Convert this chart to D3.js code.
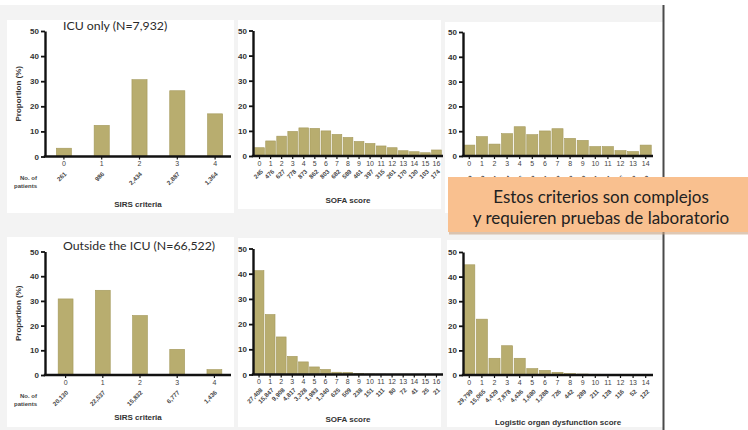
<!DOCTYPE html>
<html>
<head>
<meta charset="utf-8">
<script src="https://cdn.jsdelivr.net/npm/d3@7"></script>
<style>
  html, body { margin: 0; padding: 0; background: #ffffff; }
  svg { display: block; }
</style>
</head>
<body>
<svg id="chart" width="748" height="430"></svg>
<script>
// ---------- data ----------
const sirsScores = ["0", "1", "2", "3", "4"];
const sofaScores = ["0", "1", "2", "3", "4", "5", "6", "7", "8", "9", "10", "11", "12", "13", "14", "15", "16"];
const lodsScores = ["0", "1", "2", "3", "4", "5", "6", "7", "8", "9", "10", "11", "12", "13", "14"];
const yTicks = [0, 10, 20, 30, 40, 50];

// ICU only (N=7,932)
const icuSirsPct   = [3.3, 12.4, 30.6, 26.2, 17.0];
const icuSirsCount = ["261", "986", "2,434", "2,887", "1,364"];
const icuSofaPct   = [3.3, 6.0, 7.9, 9.8, 11.2, 11.0, 10.0, 8.6, 7.4, 5.8, 5.0, 4.0, 3.3, 2.1, 1.7, 1.3, 2.4];
const icuSofaCount = ["245", "476", "627", "778", "873", "862", "803", "682", "589", "461", "397", "315", "261", "170", "130", "103", "174"];
const icuLodsPct   = [4.4, 7.8, 4.8, 9.0, 11.8, 8.6, 10.1, 11.0, 7.1, 6.3, 3.8, 3.8, 2.2, 1.8, 4.4];
const icuLodsCount = ["349", "619", "381", "714", "936", "682", "801", "873", "563", "500", "301", "301", "175", "143", "349"];

// Outside the ICU (N=66,522)
const wardSirsPct   = [30.8, 34.3, 24.1, 10.4, 2.2];
const wardSirsCount = ["20,130", "22,537", "15,832", "6,777", "1,436"];
const wardSofaPct   = [41.2, 23.8, 14.9, 7.2, 5.0, 3.0, 2.0, 0.9, 0.8, 0.4, 0.2, 0.15, 0.1, 0.1, 0.06, 0.04, 0.03];
const wardSofaCount = ["27,408", "15,847", "9,908", "4,817", "3,328", "1,983", "1,340", "625", "509", "238", "151", "111", "80", "72", "41", "25", "21"];
const wardLodsPct   = [44.8, 22.7, 6.8, 11.9, 6.8, 2.6, 1.9, 1.1, 0.6, 0.4, 0.3, 0.2, 0.2, 0.1, 0.2];
const wardLodsCount = ["29,799", "15,065", "4,429", "7,878", "4,436", "1,680", "1,288", "726", "442", "289", "211", "128", "116", "52", "122"];

const icuTitle  = "ICU only (N=7,932)";
const wardTitle = "Outside the ICU (N=66,522)";
const calloutLines = ["Estos criterios son complejos", "y requieren pruebas de laboratorio"];

// ---------- layout ----------
const W = 748, H = 430;
const barFill = "#b8ad6f", barStroke = "#a3985a";
const axisFont = "'Liberation Sans', Arial, sans-serif";

const panels = [
  { title: icuTitle, cats: sirsScores, pct: icuSirsPct, count: icuSirsCount, xTitle: "SIRS criteria",
    box: [7, 20, 234, 213], axisX: 45, xr: [45, 234], xEnd: 231, y0: 156.5, y50: 31, pad: 0.6,
    yLabel: true, nLabel: true, xTitleY: 207, countY: 18, countDx: 3 },
  { cats: sofaScores, pct: icuSofaPct, count: icuSofaCount, xTitle: "SOFA score",
    box: [238, 20, 441, 209], axisX: 253, xr: [254, 442], xEnd: 443, y0: 156, y50: 30.5, pad: 0.12,
    xTitleY: 203, countY: 16, countDx: 4 },
  // lower part of this panel sits under the callout box, so its axis title is left out
  { cats: lodsScores, pct: icuLodsPct, count: icuLodsCount, xTitle: null,
    box: [445, 22, 663, 213], axisX: 463, xr: [463, 652], xEnd: 653, y0: 156, y50: 32, pad: 0.12,
    xTitleY: 208, countY: 22, countDx: 4 },
  { title: wardTitle, cats: sirsScores, pct: wardSirsPct, count: wardSirsCount, xTitle: "SIRS criteria",
    box: [7, 237, 234, 427], axisX: 45, xr: [47, 233], xEnd: 231, y0: 375, y50: 251.5, pad: 0.6,
    yLabel: true, nLabel: true, xTitleY: 420, countY: 18, countDx: 3 },
  { cats: sofaScores, pct: wardSofaPct, count: wardSofaCount, xTitle: "SOFA score",
    box: [238, 238, 441, 427], axisX: 253, xr: [253.5, 442], xEnd: 443, y0: 374.5, y50: 248.5, pad: 0.12,
    xTitleY: 422, countY: 16, countDx: 4 },
  { cats: lodsScores, pct: wardLodsPct, count: wardLodsCount, xTitle: "Logistic organ dysfunction score",
    box: [447, 240, 663, 427], axisX: 463, xr: [463, 652], xEnd: 653, y0: 375, y50: 252, pad: 0.12,
    xTitleY: 425, countY: 17, countDx: 4 }
];

const svg = d3.select("#chart");

// page and figure background
svg.append("rect").attr("width", W).attr("height", H).attr("fill", "#ffffff");
svg.append("rect").attr("x", 0).attr("y", 5).attr("width", 663).attr("height", H - 5).attr("fill", "#f3f3f3");

function drawPanel(p) {
  const g = svg.append("g");

  g.append("rect")
    .attr("x", p.box[0]).attr("y", p.box[1])
    .attr("width", p.box[2] - p.box[0]).attr("height", p.box[3] - p.box[1])
    .attr("fill", "#ffffff");

  const x = d3.scaleBand().domain(p.cats).range(p.xr)
    .paddingInner(p.pad).paddingOuter(p.pad / 2);
  const y = d3.scaleLinear().domain([0, 50]).range([p.y0, p.y50]);

  // bars
  g.selectAll("rect.bar").data(p.cats.map((c, i) => ({ c, v: p.pct[i] })))
    .join("rect").attr("class", "bar")
    .attr("x", d => x(d.c)).attr("width", x.bandwidth())
    .attr("y", d => y(d.v)).attr("height", d => p.y0 - y(d.v))
    .attr("fill", barFill).attr("stroke", barStroke).attr("stroke-width", 0.6);

  // y axis
  const ya = g.append("g").attr("transform", `translate(${p.axisX},0)`)
    .call(d3.axisLeft(y).tickValues(yTicks).tickSize(4).tickPadding(2).tickSizeOuter(0));
  ya.select(".domain").attr("stroke", "#111").attr("stroke-width", 2.4);
  ya.selectAll(".tick line").attr("stroke", "#111").attr("stroke-width", 1.8);
  ya.selectAll(".tick text").attr("font-family", axisFont).attr("font-size", 8)
    .attr("font-weight", "bold").attr("fill", "#333");

  // x axis
  const xa = g.append("g").attr("transform", `translate(0,${p.y0})`)
    .call(d3.axisBottom(x).tickSize(3).tickPadding(2).tickSizeOuter(0));
  xa.select(".domain").remove();
  xa.selectAll(".tick line").attr("stroke", "#111").attr("stroke-width", 1.2);
  xa.selectAll(".tick text").attr("font-family", axisFont).attr("font-size", 7)
    .attr("fill", "#444");
  g.append("line")
    .attr("x1", p.axisX - 1.2).attr("x2", p.xEnd)
    .attr("y1", p.y0).attr("y2", p.y0)
    .attr("stroke", "#111").attr("stroke-width", 2.4);

  // patient counts under each category
  g.selectAll("text.count").data(p.cats.map((c, i) => ({ c, n: p.count[i] })))
    .join("text").attr("class", "count")
    .attr("transform", d => `translate(${x(d.c) + x.bandwidth() / 2 + p.countDx},${p.y0 + p.countY}) rotate(-45)`)
    .attr("text-anchor", "end")
    .attr("font-family", axisFont).attr("font-size", 6.2).attr("font-weight", "bold")
    .attr("fill", "#444")
    .text(d => d.n);

  if (p.nLabel) {
    const t = g.append("text").attr("text-anchor", "end")
      .attr("font-family", axisFont).attr("font-size", 6).attr("font-weight", "bold")
      .attr("fill", "#444");
    t.append("tspan").attr("x", 37).attr("y", p.y0 + 23).text("No. of");
    t.append("tspan").attr("x", 37).attr("y", p.y0 + 31).text("patients");
  }

  if (p.yLabel) {
    g.append("text")
      .attr("transform", `translate(21,${(p.y0 + p.y50) / 2}) rotate(-90)`)
      .attr("text-anchor", "middle")
      .attr("font-family", axisFont).attr("font-size", 8).attr("font-weight", "bold")
      .attr("fill", "#333")
      .text("Proportion (%)");
  }

  if (p.title) {
    g.append("text")
      .attr("x", 63).attr("y", p.y50 - 1.5)
      .attr("font-family", "Lato, 'Open Sans', sans-serif").attr("font-size", 12.3)
      .attr("fill", "#2a2a2a")
      .text(p.title);
  }

  if (p.xTitle) {
    g.append("text")
      .attr("x", (p.axisX + p.xEnd) / 2).attr("y", p.xTitleY)
      .attr("text-anchor", "middle")
      .attr("font-family", axisFont).attr("font-size", 8).attr("font-weight", "bold")
      .attr("fill", "#333")
      .text(p.xTitle);
  }
}

panels.forEach(drawPanel);

// right-hand frame edge of the figure
svg.append("line")
  .attr("x1", 663.5).attr("x2", 663.5).attr("y1", 5).attr("y2", H)
  .attr("stroke", "#4a4a4a").attr("stroke-width", 2);

// callout box
const callout = svg.append("g");
callout.append("rect")
  .attr("x", 449).attr("y", 178.5).attr("width", 302).attr("height", 56)
  .attr("fill", "#c9a382").attr("opacity", 0.6);
callout.append("rect")
  .attr("x", 448).attr("y", 177).attr("width", 302).attr("height", 55)
  .attr("fill", "#f9c08f");
callout.selectAll("text").data(calloutLines).join("text")
  .attr("x", 601).attr("y", (d, i) => 203 + i * 21)
  .attr("text-anchor", "middle")
  .attr("font-family", "Lato, 'Open Sans', sans-serif").attr("font-size", 17)
  .attr("fill", "#222")
  .text(d => d);
</script>
</body>
</html>
